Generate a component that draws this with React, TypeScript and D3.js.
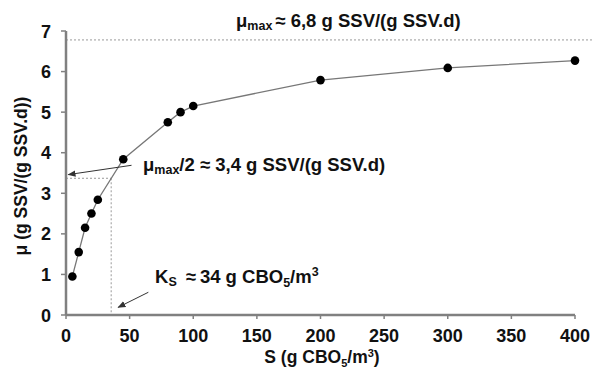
import React from 'react';
import * as d3 from 'd3';

// substrate concentration S (g CBO5/m3) and growth rate mu (g SSV/(g SSV.d))
const sValues = [5, 10, 15, 20, 25, 45, 80, 90, 100, 200, 300, 400];
const muValues = [0.95, 1.55, 2.15, 2.5, 2.84, 3.84, 4.75, 5.0, 5.15, 5.79, 6.09, 6.27];
const xTicks = [0, 50, 100, 150, 200, 250, 300, 350, 400];
const yTicks = [0, 1, 2, 3, 4, 5, 6, 7];
const muMax = 6.78;
const halfMu = 3.37;
const ksRead = 35.5;

const width = 595;
const height = 374;
const font = '"Liberation Sans", Arial, sans-serif';

const App: React.FC = () => {
    const x = d3.scaleLinear().domain([0, 400]).range([66, 575]);
    const y = d3.scaleLinear().domain([0, 7]).range([315, 31]);

    const points = sValues.map((s, i) => ({s, mu: muValues[i]}));
    const line = d3.line<{ s: number; mu: number }>()
        .x(d => x(d.s))
        .y(d => y(d.mu));

    const axisColor = '#808080';
    const txt = '#111';

    return (
        <svg width={width} height={height} style={{position: 'fixed', left: 0, top: 0, background: '#fff'}}
             fontFamily={font}>
            <defs>
                <marker id="arrow" viewBox="0 0 10 10" refX="9" refY="5" markerWidth="8" markerHeight="8"
                        orient="auto-start-reverse" markerUnits="userSpaceOnUse">
                    <path d="M0,1 L10,5 L0,9 z" fill="#333"/>
                </marker>
            </defs>

            {/* dotted guide lines */}
            <line x1={x(0)} x2={594} y1={y(muMax)} y2={y(muMax)} stroke="#999" strokeWidth={1}
                  strokeDasharray="2,2"/>
            <line x1={x(0)} x2={x(ksRead)} y1={y(halfMu)} y2={y(halfMu)} stroke="#999" strokeWidth={1}
                  strokeDasharray="2,2"/>
            <line x1={x(ksRead)} x2={x(ksRead)} y1={y(halfMu)} y2={y(0)} stroke="#999" strokeWidth={1}
                  strokeDasharray="2,2"/>

            {/* curve and points */}
            <path d={line(points) || ''} fill="none" stroke="#777" strokeWidth={1.3}/>
            {points.map((p, i) => (
                <circle key={i} cx={x(p.s)} cy={y(p.mu)} r={4.3} fill="#000"/>
            ))}

            {/* axes */}
            <line x1={x(0)} x2={x(400)} y1={y(0)} y2={y(0)} stroke={axisColor} strokeWidth={2.5}/>
            <line x1={x(0)} x2={x(0)} y1={y(0)} y2={y(7)} stroke={axisColor} strokeWidth={2.5}/>
            {xTicks.map(t => (
                <g key={'x' + t}>
                    <line x1={x(t)} x2={x(t)} y1={y(0)} y2={y(0) + 4} stroke={axisColor} strokeWidth={1.5}/>
                    <text x={x(t)} y={342} textAnchor="middle" fontSize={18} fontWeight="bold"
                          fill={txt}>{t}</text>
                </g>
            ))}
            {yTicks.map(t => (
                <g key={'y' + t}>
                    <line x1={x(0) - 5} x2={x(0)} y1={y(t)} y2={y(t)} stroke={axisColor} strokeWidth={1.5}/>
                    <text x={51} y={y(t) + 6.5} textAnchor="end" fontSize={18} fontWeight="bold"
                          fill={txt}>{t}</text>
                </g>
            ))}

            {/* axis titles */}
            <text x={322} y={363} textAnchor="middle" fontSize={17.5} fontWeight="bold" fill={txt}>
                S (g CBO<tspan fontSize={11} dy={4}>5</tspan><tspan dy={-4}>/m</tspan>
                <tspan fontSize={11} dy={-6}>3</tspan><tspan dy={6}>)</tspan>
            </text>
            <text transform={`translate(27, 176) rotate(-90)`} textAnchor="middle" fontSize={17.5}
                  fontWeight="bold" fill={txt}>
                μ (g SSV/(g SSV.d))
            </text>

            {/* annotations */}
            <text x={236} y={27} fontSize={18.5} fontWeight="bold" fill={txt}>
                μ<tspan fontSize={12.5} dy={3}>max</tspan><tspan dy={-3} dx={3}>≈ 6,8 g SSV/(g SSV.d)</tspan>
            </text>
            <text x={143} y={171} fontSize={18.5} fontWeight="bold" fill={txt}>
                μ<tspan fontSize={12.5} dy={3}>max</tspan><tspan dy={-3}>/2 ≈ 3,4 g SSV/(g SSV.d)</tspan>
            </text>
            <text x={155} y={283} fontSize={18.5} fontWeight="bold" fill={txt}>
                K<tspan fontSize={12.5} dy={3}>S</tspan><tspan dy={-3} dx={9}>≈</tspan>
                <tspan dx={4}>34 g CBO</tspan>
                <tspan fontSize={12.5} dy={4}>5</tspan><tspan dy={-4}>/m</tspan>
                <tspan fontSize={12.5} dy={-7}>3</tspan>
            </text>

            <line x1={x(51.5)} y1={y(3.69)} x2={x(1.8)} y2={y(3.46)} stroke="#333" strokeWidth={1}
                  markerEnd="url(#arrow)"/>
            <line x1={x(64.7)} y1={y(0.56)} x2={x(41)} y2={y(0.19)} stroke="#333" strokeWidth={1}
                  markerEnd="url(#arrow)"/>
        </svg>
    );
};

export default App;
